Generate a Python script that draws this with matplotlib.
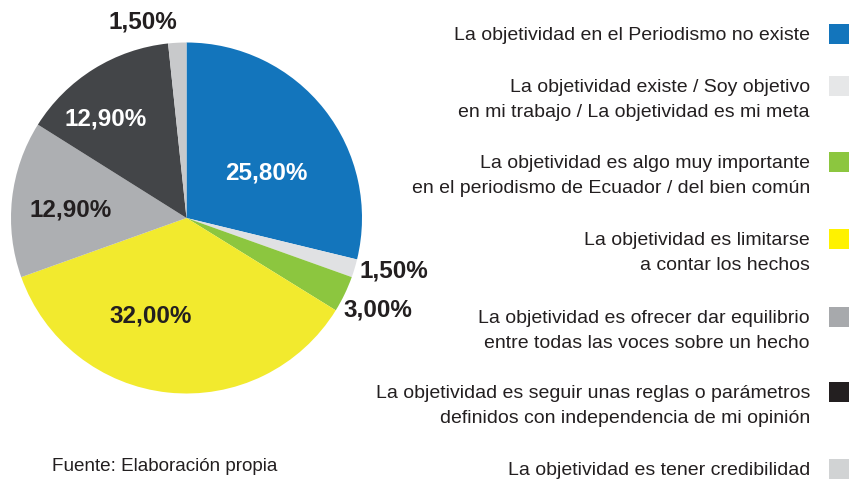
import matplotlib.pyplot as plt
from matplotlib.patches import Rectangle

# Data
values = [25.8, 1.5, 3.0, 32.0, 12.9, 12.9, 1.5]
pct_labels = ['25,80%', '1,50%', '3,00%', '32,00%', '12,90%', '12,90%', '1,50%']
categories = [
    'La objetividad en el Periodismo no existe',
    'La objetividad existe / Soy objetivo\nen mi trabajo / La objetividad es mi meta',
    'La objetividad es algo muy importante\nen el periodismo de Ecuador / del bien común',
    'La objetividad es limitarse\na contar los hechos',
    'La objetividad es ofrecer dar equilibrio\nentre todas las voces sobre un hecho',
    'La objetividad es seguir unas reglas o parámetros\ndefinidos con independencia de mi opinión',
    'La objetividad es tener credibilidad',
]
source = 'Fuente: Elaboración propia'

# Styles
slice_colors = ['#1375BC', '#E0E1E3', '#8CC63F', '#F2EA2E', '#ADAFB2', '#434548', '#C8C9CB']
box_colors = ['#1375BC', '#E6E7E8', '#8CC63F', '#FFF200', '#A7A9AC', '#231F20', '#D1D3D4']
label_colors = ['white', '#231F20', '#231F20', '#231F20', '#231F20', 'white', '#231F20']
# label positions in pie units (radius = 1)
label_pos = [(0.453, 0.256), (1.182, -0.302), (1.091, -0.524), (-0.202, -0.558),
             (-0.658, 0.046), (-0.459, 0.564), (-0.248, 1.117)]
txt = '#231F20'
W, H = 849, 479

fig = plt.figure(figsize=(W / 100, H / 100), dpi=100)

def px(x, y):
    return x / W, 1 - y / H

# pie axes: center (186.5, 218) px, radius 175.5 px
cx, cy, r = 186.5, 218, 175.5
ax = fig.add_axes([(cx - r) / W, (H - cy - r) / H, 2 * r / W, 2 * r / H])
ax.pie(values, colors=slice_colors, startangle=90, counterclock=False, radius=1,
       wedgeprops=dict(linewidth=0.6, edgecolor='none'))
ax.set_xlim(-1, 1)
ax.set_ylim(-1, 1)
ax.set_aspect('equal')
ax.axis('off')

for lab, (x, y), c in zip(pct_labels, label_pos, label_colors):
    ax.text(x, y, lab, ha='center', va='center', fontsize=17.5, fontweight='bold',
            color=c, family=['Liberation Sans', 'DejaVu Sans'], clip_on=False)

# legend on the right
baselines = [40, 92, 168, 245, 323, 398, 475]
line_h = 25
for cat, b, col in zip(categories, baselines, box_colors):
    for i, line in enumerate(cat.split('\n')):
        fig.text(*px(810, b + i * line_h), line, ha='right', va='baseline', fontsize=14,
                 color=txt, family=['Liberation Sans Narrow', 'Liberation Sans', 'DejaVu Sans'])
    x0, y0 = px(829, b - 16 + 20)
    fig.patches.append(Rectangle((x0, y0), 20 / W, 20 / H, transform=fig.transFigure,
                                 facecolor=col, edgecolor='none'))

fig.text(*px(52, 471), source, ha='left', va='baseline', fontsize=13.6, color=txt,
         family=['Liberation Sans Narrow', 'Liberation Sans', 'DejaVu Sans'])

fig.savefig('out.png', dpi=100, facecolor='white')
